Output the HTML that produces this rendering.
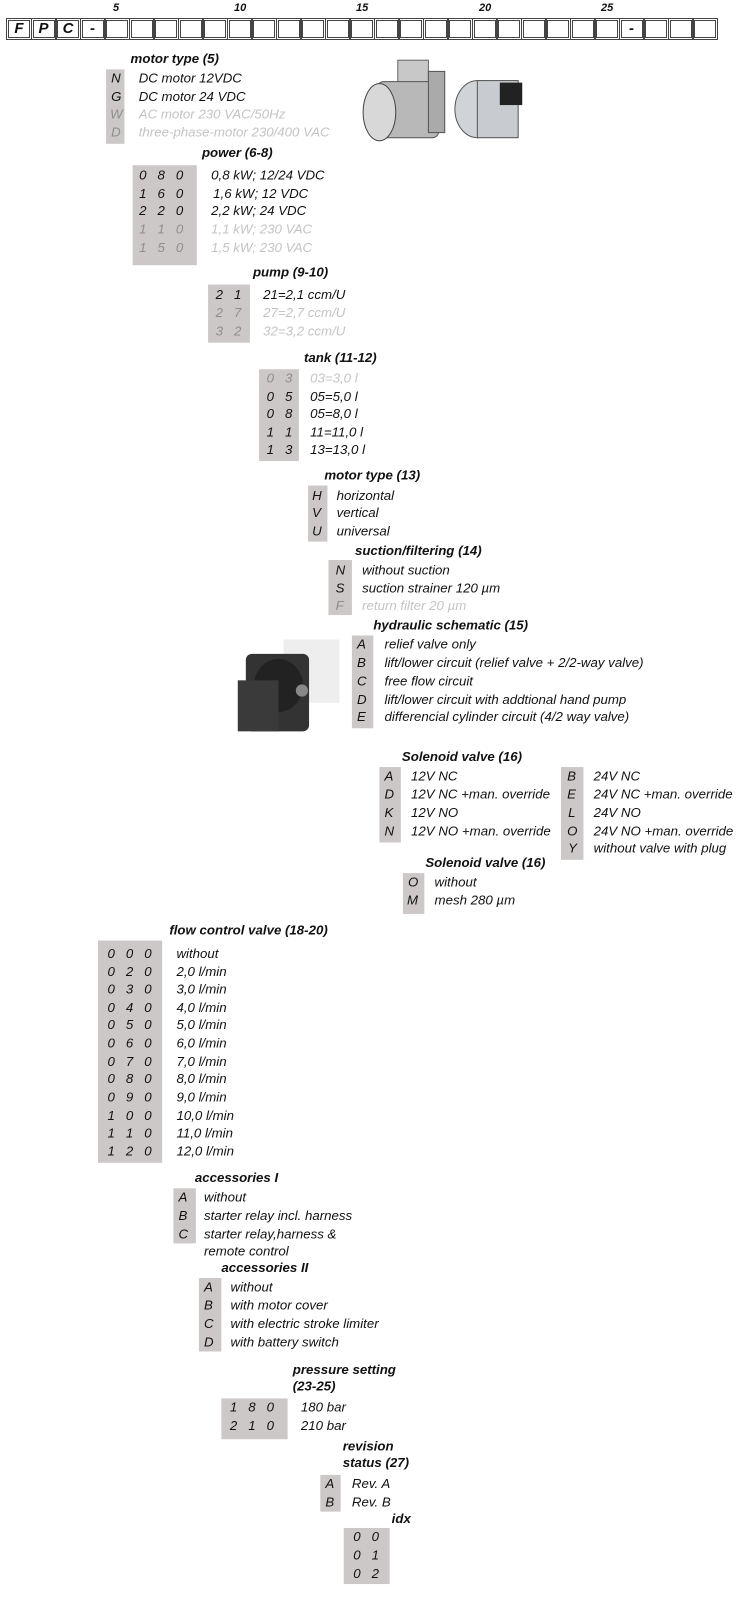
<!DOCTYPE html>
<html><head><meta charset="utf-8"><style>
*{margin:0;padding:0;box-sizing:border-box}
body{width:746px;height:1600px;background:#fff;position:relative;overflow:hidden;font-family:"Liberation Sans",sans-serif;font-style:italic;color:#111}
#hdr{position:absolute;left:0;top:0}
.b{position:absolute;top:20px;width:22px;height:18px;border:1.3px solid #444;outline:1px solid #444;outline-offset:1px;font-weight:bold;font-size:15px;text-align:center;line-height:16px}
.n{position:absolute;top:2px;font-size:11px;font-weight:bold}
#m{position:absolute;left:0;top:0;width:732px;transform:scale(1.02);transform-origin:0 0}
.t{position:absolute;font-weight:bold;font-size:13px;line-height:16px;white-space:nowrap}
.g{position:absolute;background:#cdc8c8}
.r{position:absolute;font-size:13px;line-height:18px;height:18px;white-space:nowrap}
.l{color:#c4c4c4}
.k{color:#8e8e8e}
.c span{display:inline-block;width:18px;text-align:center}
</style></head><body>
<div id="hdr">
<div class="b" style="left:8px">F</div><div class="b" style="left:32.5px">P</div><div class="b" style="left:57px">C</div><div class="b" style="left:81.5px">-</div>
<div class="b" style="left:106px"></div><div class="b" style="left:130.5px"></div><div class="b" style="left:155px"></div><div class="b" style="left:179.5px"></div><div class="b" style="left:204px"></div><div class="b" style="left:228.5px"></div><div class="b" style="left:253px"></div><div class="b" style="left:277.5px"></div><div class="b" style="left:302px"></div><div class="b" style="left:326.5px"></div><div class="b" style="left:351px"></div><div class="b" style="left:375.5px"></div><div class="b" style="left:400px"></div><div class="b" style="left:424.5px"></div><div class="b" style="left:449px"></div><div class="b" style="left:473.5px"></div><div class="b" style="left:498px"></div><div class="b" style="left:522.5px"></div><div class="b" style="left:547px"></div><div class="b" style="left:571.5px"></div><div class="b" style="left:596px"></div><div class="b" style="left:620.5px">-</div><div class="b" style="left:645px"></div><div class="b" style="left:669.5px"></div><div class="b" style="left:694px"></div>
<div class="n" style="left:113px">5</div><div class="n" style="left:234px">10</div><div class="n" style="left:356px">15</div><div class="n" style="left:479px">20</div><div class="n" style="left:601px">25</div>
</div>
<div id="m">
<div class="t" style="left:128px;top:50px">motor type (5)</div>
<div class="g" style="left:104px;top:68px;width:18px;height:73px"></div>
<div class="r" style="left:109px;top:68px">N</div><div class="r" style="left:136px;top:68px">DC motor 12VDC</div>
<div class="r" style="left:109px;top:86px">G</div><div class="r" style="left:136px;top:86px">DC motor 24 VDC</div>
<div class="r k" style="left:108px;top:103px">W</div><div class="r l" style="left:136px;top:103px">AC motor 230 VAC/50Hz</div>
<div class="r k" style="left:109px;top:121px">D</div><div class="r l" style="left:136px;top:121px">three-phase-motor 230/400 VAC</div>
<svg style="position:absolute;left:350px;top:55px" width="180" height="90">
<rect x="40" y="4" width="30" height="24" fill="#c8c8c8" stroke="#666"/>
<rect x="20" y="25" width="60" height="55" rx="6" fill="#b8b8b8" stroke="#555"/>
<ellipse cx="22" cy="55" rx="16" ry="28" fill="#d8d8d8" stroke="#444"/>
<rect x="70" y="15" width="16" height="60" fill="#aaa" stroke="#555"/>
<ellipse cx="118" cy="52" rx="22" ry="28" fill="#d0d4d8" stroke="#555"/>
<rect x="118" y="24" width="40" height="56" fill="#c8ccd0" stroke="#555"/>
<rect x="140" y="26" width="22" height="22" fill="#222"/>
</svg>
<div class="t" style="left:198px;top:142px">power (6-8)</div>
<div class="g" style="left:130px;top:162px;width:63px;height:98px"></div>
<div class="r c" style="left:131px;top:163px"><span>0</span><span>8</span><span>0</span></div><div class="r" style="left:207px;top:163px">0,8 kW; 12/24 VDC</div>
<div class="r c" style="left:131px;top:181px"><span>1</span><span>6</span><span>0</span></div><div class="r" style="left:209px;top:181px">1,6 kW; 12 VDC</div>
<div class="r c" style="left:131px;top:198px"><span>2</span><span>2</span><span>0</span></div><div class="r" style="left:207px;top:198px">2,2 kW; 24 VDC</div>
<div class="r c k" style="left:131px;top:216px"><span>1</span><span>1</span><span>0</span></div><div class="r l" style="left:207px;top:216px">1,1 kW; 230 VAC</div>
<div class="r c k" style="left:131px;top:234px"><span>1</span><span>5</span><span>0</span></div><div class="r l" style="left:207px;top:234px">1,5 kW; 230 VAC</div>
<div class="t" style="left:248px;top:259px">pump (9-10)</div>
<div class="g" style="left:204px;top:279px;width:41px;height:57px"></div>
<div class="r c" style="left:206px;top:280px"><span>2</span><span>1</span></div><div class="r" style="left:258px;top:280px">21=2,1 ccm/U</div>
<div class="r c k" style="left:206px;top:298px"><span>2</span><span>7</span></div><div class="r l" style="left:258px;top:298px">27=2,7 ccm/U</div>
<div class="r c k" style="left:206px;top:316px"><span>3</span><span>2</span></div><div class="r l" style="left:258px;top:316px">32=3,2 ccm/U</div>
<div class="t" style="left:298px;top:343px">tank (11-12)</div>
<div class="g" style="left:254px;top:362px;width:39px;height:90px"></div>
<div class="r c k" style="left:256px;top:362px"><span>0</span><span>3</span></div><div class="r l" style="left:304px;top:362px">03=3,0 l</div>
<div class="r c" style="left:256px;top:380px"><span>0</span><span>5</span></div><div class="r" style="left:304px;top:380px">05=5,0 l</div>
<div class="r c" style="left:256px;top:397px"><span>0</span><span>8</span></div><div class="r" style="left:304px;top:397px">05=8,0 l</div>
<div class="r c" style="left:256px;top:415px"><span>1</span><span>1</span></div><div class="r" style="left:304px;top:415px">11=11,0 l</div>
<div class="r c" style="left:256px;top:432px"><span>1</span><span>3</span></div><div class="r" style="left:304px;top:432px">13=13,0 l</div>
<div class="t" style="left:318px;top:458px">motor type (13)</div>
<div class="g" style="left:302px;top:476px;width:19px;height:55px"></div>
<div class="r" style="left:306px;top:477px">H</div><div class="r" style="left:330px;top:477px">horizontal</div>
<div class="r" style="left:306px;top:494px">V</div><div class="r" style="left:330px;top:494px">vertical</div>
<div class="r" style="left:306px;top:512px">U</div><div class="r" style="left:330px;top:512px">universal</div>
<div class="t" style="left:348px;top:532px">suction/filtering (14)</div>
<div class="g" style="left:322px;top:549px;width:23px;height:54px"></div>
<div class="r" style="left:329px;top:550px">N</div><div class="r" style="left:355px;top:550px">without suction</div>
<div class="r" style="left:329px;top:568px">S</div><div class="r" style="left:355px;top:568px">suction strainer 120 µm</div>
<div class="r k" style="left:329px;top:585px">F</div><div class="r l" style="left:355px;top:585px">return filter 20 µm</div>
<div class="t" style="left:366px;top:605px">hydraulic schematic (15)</div>
<div class="g" style="left:345px;top:623px;width:21px;height:91px"></div>
<div class="r" style="left:350px;top:623px">A</div><div class="r" style="left:377px;top:623px">relief valve only</div>
<div class="r" style="left:350px;top:641px">B</div><div class="r" style="left:377px;top:641px">lift/lower circuit (relief valve + 2/2-way valve)</div>
<div class="r" style="left:350px;top:659px">C</div><div class="r" style="left:377px;top:659px">free flow circuit</div>
<div class="r" style="left:350px;top:677px">D</div><div class="r" style="left:377px;top:677px">lift/lower circuit with addtional hand pump</div>
<div class="r" style="left:350px;top:694px">E</div><div class="r" style="left:377px;top:694px">differencial cylinder circuit (4/2 way valve)</div>
<svg style="position:absolute;left:233px;top:627px" width="100" height="93">
<rect x="45" y="0" width="55" height="62" fill="#eee"/>
<rect x="8" y="14" width="62" height="76" rx="6" fill="#333"/>
<ellipse cx="40" cy="45" rx="24" ry="26" fill="#222"/>
<rect x="0" y="40" width="40" height="50" fill="#3a3a3a"/>
<circle cx="63" cy="50" r="6" fill="#888"/>
</svg>
<div class="t" style="left:394px;top:734px">Solenoid valve (16)</div>
<div class="g" style="left:372px;top:752px;width:21px;height:74px"></div>
<div class="r" style="left:377px;top:752px">A</div><div class="r" style="left:403px;top:752px">12V NC</div>
<div class="r" style="left:377px;top:770px">D</div><div class="r" style="left:403px;top:770px">12V NC +man. override</div>
<div class="r" style="left:377px;top:788px">K</div><div class="r" style="left:403px;top:788px">12V NO</div>
<div class="r" style="left:377px;top:806px">N</div><div class="r" style="left:403px;top:806px">12V NO +man. override</div>
<div class="g" style="left:550px;top:752px;width:22px;height:91px"></div>
<div class="r" style="left:556px;top:752px">B</div><div class="r" style="left:582px;top:752px">24V NC</div>
<div class="r" style="left:556px;top:770px">E</div><div class="r" style="left:582px;top:770px">24V NC +man. override</div>
<div class="r" style="left:557px;top:788px">L</div><div class="r" style="left:582px;top:788px">24V NO</div>
<div class="r" style="left:556px;top:806px">O</div><div class="r" style="left:582px;top:806px">24V NO +man. override</div>
<div class="r" style="left:557px;top:823px">Y</div><div class="r" style="left:582px;top:823px">without valve with plug</div>
<div class="t" style="left:417px;top:838px">Solenoid valve (16)</div>
<div class="g" style="left:395px;top:856px;width:21px;height:40px"></div>
<div class="r" style="left:400px;top:856px">O</div><div class="r" style="left:426px;top:856px">without</div>
<div class="r" style="left:399px;top:874px">M</div><div class="r" style="left:426px;top:874px">mesh 280 µm</div>
<div class="t" style="left:166px;top:904px">flow control valve (18-20)</div>
<div class="g" style="left:96px;top:922px;width:63px;height:218px"></div>
<div class="r c" style="left:100px;top:926px"><span>0</span><span>0</span><span>0</span></div><div class="r" style="left:173px;top:926px">without</div>
<div class="r c" style="left:100px;top:944px"><span>0</span><span>2</span><span>0</span></div><div class="r" style="left:173px;top:944px">2,0 l/min</div>
<div class="r c" style="left:100px;top:961px"><span>0</span><span>3</span><span>0</span></div><div class="r" style="left:173px;top:961px">3,0 l/min</div>
<div class="r c" style="left:100px;top:979px"><span>0</span><span>4</span><span>0</span></div><div class="r" style="left:173px;top:979px">4,0 l/min</div>
<div class="r c" style="left:100px;top:996px"><span>0</span><span>5</span><span>0</span></div><div class="r" style="left:173px;top:996px">5,0 l/min</div>
<div class="r c" style="left:100px;top:1014px"><span>0</span><span>6</span><span>0</span></div><div class="r" style="left:173px;top:1014px">6,0 l/min</div>
<div class="r c" style="left:100px;top:1032px"><span>0</span><span>7</span><span>0</span></div><div class="r" style="left:173px;top:1032px">7,0 l/min</div>
<div class="r c" style="left:100px;top:1049px"><span>0</span><span>8</span><span>0</span></div><div class="r" style="left:173px;top:1049px">8,0 l/min</div>
<div class="r c" style="left:100px;top:1067px"><span>0</span><span>9</span><span>0</span></div><div class="r" style="left:173px;top:1067px">9,0 l/min</div>
<div class="r c" style="left:100px;top:1085px"><span>1</span><span>0</span><span>0</span></div><div class="r" style="left:173px;top:1085px">10,0 l/min</div>
<div class="r c" style="left:100px;top:1102px"><span>1</span><span>1</span><span>0</span></div><div class="r" style="left:173px;top:1102px">11,0 l/min</div>
<div class="r c" style="left:100px;top:1120px"><span>1</span><span>2</span><span>0</span></div><div class="r" style="left:173px;top:1120px">12,0 l/min</div>
<div class="t" style="left:191px;top:1147px">accessories I</div>
<div class="g" style="left:170px;top:1165px;width:22px;height:54px"></div>
<div class="r" style="left:175px;top:1165px">A</div><div class="r" style="left:200px;top:1165px">without</div>
<div class="r" style="left:175px;top:1183px">B</div><div class="r" style="left:200px;top:1183px">starter relay incl. harness</div>
<div class="r" style="left:175px;top:1201px">C</div><div class="r" style="left:200px;top:1201px">starter relay,harness &amp;</div>
<div class="r" style="left:200px;top:1218px">remote control</div>
<div class="t" style="left:217px;top:1235px">accessories II</div>
<div class="g" style="left:195px;top:1253px;width:22px;height:72px"></div>
<div class="r" style="left:200px;top:1253px">A</div><div class="r" style="left:226px;top:1253px">without</div>
<div class="r" style="left:200px;top:1271px">B</div><div class="r" style="left:226px;top:1271px">with motor cover</div>
<div class="r" style="left:200px;top:1289px">C</div><div class="r" style="left:226px;top:1289px">with electric stroke limiter</div>
<div class="r" style="left:200px;top:1307px">D</div><div class="r" style="left:226px;top:1307px">with battery switch</div>
<div class="t" style="left:287px;top:1335px">pressure setting<br>(23-25)</div>
<div class="g" style="left:217px;top:1371px;width:65px;height:40px"></div>
<div class="r c" style="left:220px;top:1371px"><span>1</span><span>8</span><span>0</span></div><div class="r" style="left:295px;top:1371px">180 bar</div>
<div class="r c" style="left:220px;top:1389px"><span>2</span><span>1</span><span>0</span></div><div class="r" style="left:295px;top:1389px">210 bar</div>
<div class="t" style="left:336px;top:1410px">revision<br>status (27)</div>
<div class="g" style="left:314px;top:1446px;width:20px;height:36px"></div>
<div class="r" style="left:319px;top:1446px">A</div><div class="r" style="left:345px;top:1446px">Rev. A</div>
<div class="r" style="left:319px;top:1464px">B</div><div class="r" style="left:345px;top:1464px">Rev. B</div>
<div class="t" style="left:384px;top:1481px">idx</div>
<div class="g" style="left:337px;top:1498px;width:45px;height:55px"></div>
<div class="r c" style="left:341px;top:1498px"><span>0</span><span>0</span></div>
<div class="r c" style="left:341px;top:1516px"><span>0</span><span>1</span></div>
<div class="r c" style="left:341px;top:1534px"><span>0</span><span>2</span></div>
</div>
</body></html>
